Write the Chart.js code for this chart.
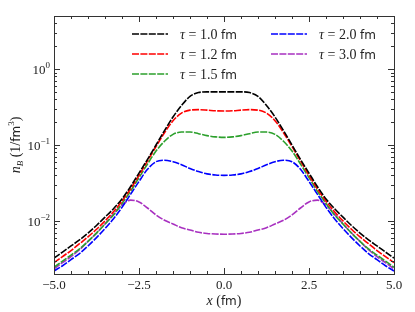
<!DOCTYPE html>
<html>
<head>
<meta charset="utf-8">
<script src="https://cdn.jsdelivr.net/npm/chart.js@4.4.0/dist/chart.umd.min.js"></script>
<style>
  body { margin: 0; background: #fff; }
  canvas { display: block; }
</style>
</head>
<body>
<canvas id="c" width="415" height="312"></canvas>
<script>
// x positions (fm)
const xs = [-5, -4.75, -4.5, -4.25, -4, -3.75, -3.5, -3.25, -3, -2.75, -2.5, -2.25, -2, -1.75, -1.5, -1.25, -1, -0.75, -0.5, -0.25,
  0, 0.25, 0.5, 0.75, 1, 1.25, 1.5, 1.75, 2, 2.25, 2.5, 2.75, 3, 3.25, 3.5, 3.75, 4, 4.25, 4.5, 4.75, 5];

const taus = ['1.0', '1.2', '1.5', '2.0', '3.0'];
const couleurs = ['#000000', '#ff0000', '#2ca02c', '#0000ff', '#a830c0'];

const nb10 = [0.00324, 0.00389, 0.00468, 0.00562, 0.00692, 0.00871, 0.0112, 0.0145, 0.0195, 0.0282, 0.0427, 0.0646, 0.100, 0.155, 0.234, 0.331, 0.437, 0.490, 0.501, 0.501,
  0.501, 0.501, 0.501, 0.490, 0.437, 0.331, 0.234, 0.155, 0.100, 0.0646, 0.0427, 0.0282, 0.0195, 0.0145, 0.0112, 0.00871, 0.00692, 0.00562, 0.00468, 0.00389, 0.00324];
const nb12 = [0.00282, 0.00339, 0.00407, 0.00501, 0.00617, 0.00776, 0.0100, 0.0132, 0.0182, 0.0263, 0.0398, 0.0617, 0.0955, 0.145, 0.209, 0.263, 0.288, 0.292, 0.288, 0.282,
  0.280, 0.282, 0.288, 0.292, 0.288, 0.263, 0.209, 0.145, 0.0955, 0.0617, 0.0398, 0.0263, 0.0182, 0.0132, 0.0100, 0.00776, 0.00617, 0.00501, 0.00407, 0.00339, 0.00282];
const nb15 = [0.00245, 0.00295, 0.00355, 0.00427, 0.00537, 0.00692, 0.00912, 0.0120, 0.0170, 0.0245, 0.0372, 0.0562, 0.0832, 0.112, 0.138, 0.148, 0.148, 0.141, 0.133, 0.128,
  0.126, 0.128, 0.133, 0.141, 0.148, 0.148, 0.138, 0.112, 0.0832, 0.0562, 0.0372, 0.0245, 0.0170, 0.0120, 0.00912, 0.00692, 0.00537, 0.00427, 0.00355, 0.00295, 0.00245];
const nb20 = [0.00219, 0.00257, 0.00309, 0.00372, 0.00468, 0.00603, 0.00794, 0.0107, 0.0151, 0.0224, 0.0331, 0.0479, 0.0603, 0.0631, 0.0603, 0.0550, 0.0490, 0.0447, 0.0417, 0.0403,
  0.0398, 0.0403, 0.0417, 0.0447, 0.0490, 0.0550, 0.0603, 0.0631, 0.0603, 0.0479, 0.0331, 0.0224, 0.0151, 0.0107, 0.00794, 0.00603, 0.00468, 0.00372, 0.00309, 0.00257, 0.00219];
const nb30 = [0.00234, 0.00282, 0.00339, 0.00417, 0.00537, 0.00692, 0.00912, 0.0123, 0.0162, 0.0188, 0.0178, 0.0148, 0.0120, 0.0102, 0.00912, 0.00813, 0.00759, 0.00708, 0.00684, 0.00673,
  0.00668, 0.00673, 0.00684, 0.00708, 0.00759, 0.00813, 0.00912, 0.0102, 0.0120, 0.0148, 0.0178, 0.0188, 0.0162, 0.0123, 0.00912, 0.00692, 0.00537, 0.00417, 0.00339, 0.00282, 0.00234];

const series = [nb10, nb12, nb15, nb20, nb30];

const xTicks = [-5, -2.5, 0, 2.5, 5];
const yDecades = [0.01, 0.1, 1];
const yExpos = ['\u22122', '\u22121', '0'];

const SERIF = '"Liberation Serif", "DejaVu Serif", serif';
const SANS = '"DejaVu Sans", "Liberation Sans", sans-serif';

function runsWidth(ctx, runs) {
  let w = 0;
  for (let r of runs) { ctx.font = r.font; w += ctx.measureText(r.t).width; }
  return w;
}
function drawRuns(ctx, runs, x, y, align) {
  let w = runsWidth(ctx, runs);
  let cx = align === 'center' ? x - w / 2 : (align === 'right' ? x - w : x);
  ctx.textAlign = 'left';
  ctx.textBaseline = 'alphabetic';
  for (let r of runs) {
    ctx.font = r.font;
    ctx.fillText(r.t, cx, y + (r.dy || 0));
    cx += ctx.measureText(r.t).width;
  }
}

const cadre = {
  id: 'cadre',
  afterDraw(chart) {
    const ctx = chart.ctx;
    const a = chart.chartArea;
    const sx = chart.scales.x, sy = chart.scales.y;
    ctx.save();
    ctx.strokeStyle = '#333';
    ctx.lineWidth = 1;
    ctx.strokeRect(Math.round(a.left) + 0.5, Math.round(a.top) + 0.5, Math.round(a.right - a.left), Math.round(a.bottom - a.top));

    ctx.beginPath();
    // x ticks, inward, top and bottom
    for (let v = -5; v <= 5.001; v += 0.5) {
      let p = Math.round(sx.getPixelForValue(v)) + 0.5;
      let len = xTicks.some(t => Math.abs(t - v) < 1e-6) ? 6 : 3;
      ctx.moveTo(p, a.bottom); ctx.lineTo(p, a.bottom - len);
      ctx.moveTo(p, a.top); ctx.lineTo(p, a.top + len);
    }
    // y ticks, inward, left and right
    for (let d = -3; d <= 0; d++) {
      for (let k = 1; k <= 9; k++) {
        let v = k * Math.pow(10, d);
        if (v < sy.min || v > sy.max) continue;
        let p = Math.round(sy.getPixelForValue(v)) + 0.5;
        let len = k === 1 ? 6 : 3;
        ctx.moveTo(a.left, p); ctx.lineTo(a.left + len, p);
        ctx.moveTo(a.right, p); ctx.lineTo(a.right - len, p);
      }
    }
    ctx.stroke();

    ctx.fillStyle = '#222';
    // y tick labels 10^n
    yDecades.forEach((v, i) => {
      let p = sy.getPixelForValue(v);
      drawRuns(ctx, [
        { t: '10', font: '13px ' + SERIF },
        { t: yExpos[i], font: '9px ' + SERIF, dy: -6 }
      ], a.left - 4, p + 5, 'right');
    });

    // x title
    drawRuns(ctx, [
      { t: 'x', font: 'italic 14px ' + SERIF },
      { t: ' (', font: '14px ' + SERIF },
      { t: 'fm', font: '12px ' + SANS },
      { t: ')', font: '14px ' + SERIF }
    ], (a.left + a.right) / 2, 305, 'center');

    // y title, rotated
    ctx.save();
    ctx.translate(20, (a.top + a.bottom) / 2);
    ctx.rotate(-Math.PI / 2);
    drawRuns(ctx, [
      { t: 'n', font: 'italic 14px ' + SERIF },
      { t: 'B', font: 'italic 9px ' + SERIF, dy: 3 },
      { t: ' (1/', font: '14px ' + SERIF },
      { t: 'fm', font: '12px ' + SANS },
      { t: '3', font: '9px ' + SERIF, dy: -6 },
      { t: ')', font: '14px ' + SERIF }
    ], 0, 0, 'center');
    ctx.restore();

    // legend, two columns
    const places = [[132, 34], [132, 54], [132, 74], [271, 34], [271, 54]];
    chart.data.datasets.forEach((ds, i) => {
      let [lx, ly] = places[i];
      ctx.save();
      ctx.strokeStyle = ds.borderColor;
      ctx.lineWidth = 1.6;
      ctx.setLineDash(ds.borderDash);
      ctx.beginPath();
      ctx.moveTo(lx, ly); ctx.lineTo(lx + 36, ly);
      ctx.stroke();
      ctx.restore();
      drawRuns(ctx, [
        { t: '\u03c4', font: 'italic 14px ' + SERIF },
        { t: ' = ' + taus[i] + ' ', font: '14px ' + SERIF },
        { t: 'fm', font: '12px ' + SANS }
      ], lx + 48, ly + 5, 'left');
    });
    ctx.restore();
  }
};

function datasetsDensite() {
  let tab = [];
  for (let i = 0; i < series.length; i++) {
    tab.push({
      label: '\u03c4 = ' + taus[i] + ' fm',
      data: xs.map((x, j) => ({ x: x, y: series[i][j] })),
      borderColor: couleurs[i],
      borderWidth: 1.6,
      borderDash: [7, 1.4],
      pointRadius: 0,
      cubicInterpolationMode: 'monotone',
      fill: false
    });
  }
  return tab;
}

new Chart(document.getElementById('c'), {
  type: 'line',
  data: { datasets: datasetsDensite() },
  options: {
    responsive: false,
    animation: false,
    layout: { padding: { left: 54, right: 21, top: 16, bottom: 0 } },
    plugins: { legend: { display: false }, tooltip: { enabled: false } },
    scales: {
      x: {
        type: 'linear', min: -5, max: 5,
        grid: { display: false, drawTicks: false },
        border: { display: false },
        afterFit(s) { s.height = 38; },
        afterBuildTicks(s) { s.ticks = xTicks.map(v => ({ value: v })); },
        ticks: {
          padding: 4,
          color: '#222',
          font: { family: SERIF, size: 13 },
          maxRotation: 0,
          callback: v => v.toFixed(1).replace('-', '\u2212')
        }
      },
      y: {
        type: 'logarithmic', min: 0.002, max: 5,
        grid: { display: false, drawTicks: false },
        border: { display: false },
        ticks: { display: false },
        afterFit(s) { s.width = 0; }
      }
    }
  },
  plugins: [cadre]
});
</script>
</body>
</html>
